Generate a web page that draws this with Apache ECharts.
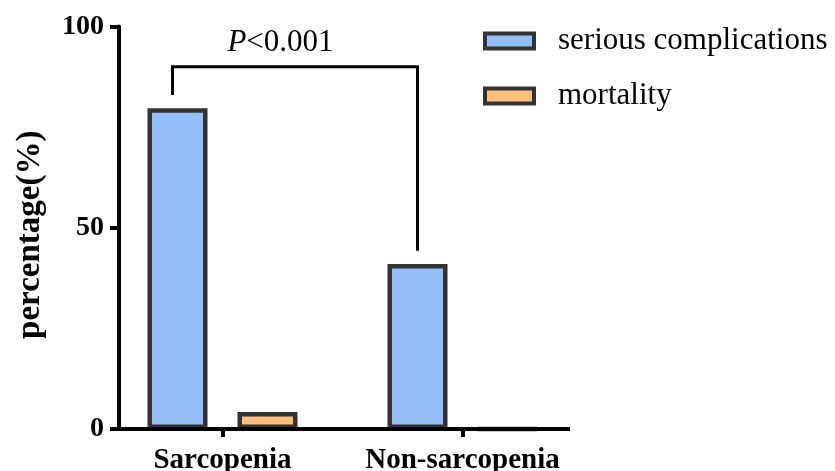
<!DOCTYPE html>
<html>
<head>
<meta charset="utf-8">
<script src="https://cdn.jsdelivr.net/npm/echarts@6/dist/echarts.min.js"></script>
<style>
html,body{margin:0;padding:0;background:#fff;}
#c{width:835px;height:471px;}
</style>
</head>
<body>
<div id="c"></div>
<script>
const categories = ['Sarcopenia', 'Non-sarcopenia'];
const seriousComplications = [79.7, 41.0];
const mortality = [4.2, 0];
const yTicks = [0, 50, 100];
const seriesNames = ['serious complications', 'mortality'];
const bracketTop = 90;
const bracketDrop = 3.3;

const FONT = '"Liberation Serif", "Times New Roman", serif';
const chart = echarts.init(document.getElementById('c'), null, {renderer: 'canvas'});

const option = {
  animation: false,
  backgroundColor: '#fff',
  grid: {left: 102.5, right: 252.5, top: 26.5, bottom: 42, containLabel: false, outerBoundsMode: 'none'},
  legend: {
    orient: 'vertical',
    left: 478,
    top: 20.5,
    itemWidth: 49,
    itemHeight: 15,
    itemGap: 24,
    icon: 'rect',
    data: seriesNames,
    itemStyle: {borderColor: '#333333', borderWidth: 4},
    textStyle: {fontFamily: FONT, fontSize: 31, color: '#000', lineHeight: 31, padding: [0, 0, 0, 19]}
  },
  xAxis: {
    type: 'category',
    data: categories,
    axisLine: {show: false},
    axisTick: {show: true, alignWithLabel: true, length: 8, lineStyle: {color: '#000', width: 4}},
    axisLabel: {interval: 0, hideOverlap: false, fontFamily: FONT, fontSize: 29, fontWeight: 'bold', color: '#000', margin: 17},
    splitLine: {show: false}
  },
  yAxis: {
    type: 'value',
    min: yTicks[0],
    max: yTicks[yTicks.length - 1],
    interval: yTicks[1] - yTicks[0],
    offset: -16.5,
    name: 'percentage(%)',
    nameLocation: 'middle',
    nameGap: 72,
    nameTextStyle: {fontFamily: FONT, fontSize: 33, fontWeight: 'bold', color: '#000', padding: [0, 14, 0, 0]},
    axisLine: {show: true, lineStyle: {color: '#000', width: 4}},
    axisTick: {show: true, length: 9, lineStyle: {color: '#000', width: 4}},
    axisLabel: {fontFamily: FONT, fontSize: 28, fontWeight: 'bold', color: '#000', margin: 15},
    splitLine: {show: false}
  },
  series: [
    {
      name: seriesNames[0], type: 'bar', data: seriousComplications,
      barWidth: 60, barGap: '50%',
      itemStyle: {color: '#94BFF8', borderColor: '#333333', borderWidth: 4.5}
    },
    {
      name: seriesNames[1], type: 'bar', data: mortality,
      barWidth: 60,
      itemStyle: {color: '#FFBE7D', borderColor: '#333333', borderWidth: 4.5}
    }
  ]
};
chart.setOption(option);

function barCenter(seriesIndex, idx) {
  try {
    const l = chart.getModel().getSeriesByIndex(seriesIndex).getData().getItemLayout(idx);
    return l.x + l.width / 2;
  } catch (e) {
    return chart.convertToPixel({xAxisIndex: 0}, categories[idx]) + (seriesIndex === 0 ? -45 : 45);
  }
}

const y0 = chart.convertToPixel({yAxisIndex: 0}, 0);
const yAxisX = 102.5 + 16.5;
const yTop = chart.convertToPixel({yAxisIndex: 0}, bracketTop);
const xL = barCenter(0, 0) - 5;
const xR = barCenter(0, 1);
const yL = chart.convertToPixel({yAxisIndex: 0}, seriousComplications[0] + bracketDrop);
const yR = chart.convertToPixel({yAxisIndex: 0}, seriousComplications[1] + bracketDrop);

chart.setOption({
  graphic: [
    {
      type: 'line', z: 100,
      shape: {x1: yAxisX - 2, y1: y0, x2: 570, y2: y0},
      style: {stroke: '#000', lineWidth: 4}
    },
    {
      type: 'polyline', z: 100,
      shape: {points: [[xL, yL], [xL, yTop], [xR, yTop], [xR, yR]]},
      style: {stroke: '#000', lineWidth: 3, fill: null}
    },
    {
      type: 'text', z: 100,
      x: xL + 108, y: 43,
      style: {
        text: '{i|P}<0.001',
        align: 'center', verticalAlign: 'middle',
        fontFamily: FONT, fontSize: 31, fill: '#000',
        rich: {i: {fontStyle: 'italic', fontFamily: FONT, fontSize: 31}}
      }
    }
  ]
});
</script>
</body>
</html>
